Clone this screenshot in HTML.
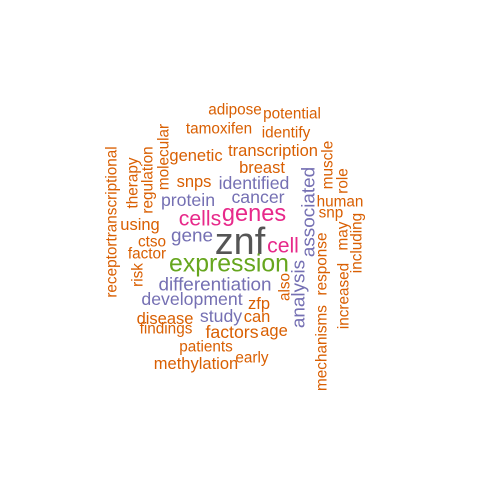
<!DOCTYPE html>
<html><head><meta charset="utf-8"><style>
html,body{margin:0;padding:0;background:#fff;width:480px;height:480px;overflow:hidden}
svg text{font-family:"Liberation Sans",sans-serif}
</style></head><body>
<svg id="cloud" width="480" height="480" viewBox="0 0 480 480"></svg>
<script>
const words = ["adipose","potential","tamoxifen","identify","transcription","genetic","breast","snps","identified","cancer","protein","human","snp","cells","genes","using","ctso","gene","znf","cell","factor","expression","differentiation","development","zfp","disease","study","can","findings","factors","age","patients","methylation","early",
"receptortranscriptional","therapy","regulation","risk","molecular","muscle","role","associated","may","including","analysis","also","response","mechanisms","increased"];
const sizes = [13,13,13,13,14,14,14,14,15,15,15,13,13,18,20,14,13,16,32,18,13,21,16,15,14,14,15,14,13,15,14,13,14,13,
13,13,13,13,13,13,13,16,13,13,16,13,13,13,13];
const colorGroup = ["o","o","o","o","o","o","o","o","p","p","p","o","o","k","k","o","o","p","g","k","o","G","p","p","o","o","p","o","o","o","o","o","o","o",
"o","o","o","o","o","o","o","p","o","o","p","o","o","o","o"];
const cx = [235,292,219,286,273,196,262,194,254,258,188,340,331,200,254,140,152,192,240,283,147,229,215,192,259,165,221,257,166,232,274,206,196,252,
112,133,148,138,164,328,343,309,343,357,299,285,322,322,344];
const cy = [110,114,129,133,151,156,168,182,183,197,200,202,213,219,214,225,242,236,242,246,254,264,285,299,304,319,316,317,329,332,331,347,364,358,
222,183,180,275,157,165,181,212,236,243,294,287,264,348,296];
const rot = words.map((w,i)=>i>=34);
const palette = {o:"#D95F02",p:"#7570B3",k:"#E7298A",G:"#66A61E",g:"#555555"};
const SCALE = 1.18;
const svg = document.getElementById('cloud');
words.forEach((w,i)=>{
  const t = document.createElementNS("http://www.w3.org/2000/svg","text");
  
  
  t.setAttribute('x', cx[i]); t.setAttribute('y', cy[i]);
  t.setAttribute('font-size', (sizes[i]*SCALE).toFixed(1));
  t.setAttribute('fill', palette[colorGroup[i]]);
  t.setAttribute('text-anchor','middle');
  t.setAttribute('dominant-baseline','central');
  if (rot[i]) t.setAttribute('transform','rotate(-90 '+cx[i]+' '+cy[i]+')');
  t.textContent = w;
  svg.appendChild(t);
});
</script>
</body></html>
